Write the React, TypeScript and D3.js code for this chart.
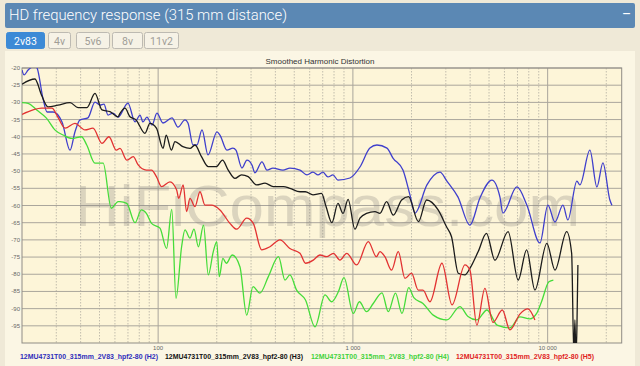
import * as d3 from 'd3';
import { useRef, useEffect } from 'react';

// ---- data (frequency in Hz, level in dB) ----
const tabLabels = ['2v83', '4v', '5v6', '8v', '11v2'];
const yTickValues = [-20, -25, -30, -35, -40, -45, -50, -55, -60, -65, -70, -75, -80, -85, -90, -95];
const xMajorTicks = [100, 1000, 10000];
const xMajorLabels = ['100', '1 000', '10 000'];
const seriesNames = [
  '12MU4731T00_315mm_2V83_hpf2-80 (H2)',
  '12MU4731T00_315mm_2V83_hpf2-80 (H3)',
  '12MU4731T00_315mm_2V83_hpf2-80 (H4)',
  '12MU4731T00_315mm_2V83_hpf2-80 (H5)',
];

const h2: [number, number][] = [
  [20, -20.6], [20.5, -22.0], [21.5, -20.6], [23.3, -19.4], [23.9, -20.0], [25.6, -28.7], [26.9, -32.8],
  [28.9, -32.8], [32.1, -35.7], [35.3, -43.9], [37.4, -38.6], [39.7, -35.1], [43.6, -34.5], [47.4, -29.9],
  [50.3, -30.8], [52.7, -30.5], [55.3, -33.7], [58.6, -33.1], [62.2, -34.3], [70, -30.2], [76.1, -35.7],
  [80.7, -33.7], [83.6, -35.7], [87.6, -34.3], [93, -36.6], [98.6, -33.1], [105.9, -36.0], [117.8, -34.5],
  [126.4, -37.2], [137.4, -35.1], [142.3, -36.0], [151, -42.4], [158.2, -42.4], [168, -38.0], [180.3, -45.3],
  [200.5, -38.6], [207.7, -39.5], [225.6, -43.9], [242.2, -43.3], [250.9, -43.9], [269.4, -49.1],
  [285.8, -46.8], [303.2, -48.2], [314.1, -50.5], [341.4, -47.3], [362.2, -49.7], [388.6, -49.1],
  [437.4, -49.7], [475.2, -49.1], [534.8, -49.7], [581, -51.1], [623.8, -50.3], [661.7, -51.1], [702, -50.3],
  [744.6, -51.7], [790, -51.1], [838, -52.6], [966, -52.0], [1087, -48.8], [1223, -43.3], [1329, -42.4],
  [1496, -43.3], [1606, -46.2], [1807, -49.7], [1963, -56.9], [2083, -62.2], [2400, -54.0], [2799, -50.3],
  [3039, -52.9], [3461, -57.5], [3989, -65.7], [4490, -57.8], [5173, -52.6], [5686, -57.5], [5891, -62.2],
  [6951, -54.6], [7825, -59.9], [9126, -70.9], [10030, -59.9], [10900, -64.8], [11980, -59.9], [12700, -64.2],
  [14130, -52.9], [14640, -54.0], [16480, -43.9], [17900, -54.6], [19220, -47.6], [20870, -58.4], [21380, -59.9],
];

const h3: [number, number][] = [
  [20, -24.7], [23.3, -23.2], [25.2, -27.9], [27.2, -31.3], [30.6, -30.8], [35.3, -30.1], [38.8, -31.5],
  [43.1, -31.5], [47.4, -27.4], [51.5, -32.2], [56.6, -32.7], [62.2, -34.2], [63.7, -33.2], [67.6, -31.7],
  [71.7, -34.2], [77, -35.1], [85.6, -39.0], [90.8, -36.1], [98, -37.5], [106, -43.4], [110, -39.5],
  [117, -43.9], [122, -41.4], [134, -42.9], [145.7, -43.4], [154.6, -42.4], [167, -45.8], [181, -48.7],
  [199, -48.7], [214, -46.8], [229, -49.7], [248, -52.1], [268, -51.1], [290, -51.6], [320, -54.0],
  [354, -53.5], [390, -54.5], [440, -54.5], [475, -55.0], [535, -56.0], [570, -56.0], [624, -56.9],
  [690, -56.5], [728, -60.3], [780, -65.0], [838, -59.4], [890, -62.3], [945, -58.2], [1024, -66.9],
  [1087, -63.7], [1175, -62.3], [1298, -61.8], [1377, -62.3], [1490, -58.9], [1612, -62.8], [1780, -58.4],
  [1930, -57.4], [2170, -64.7], [2390, -58.4], [2740, -61.3], [3025, -66.2], [3210, -69.1], [3475, -79.7],
  [3760, -80.2], [3989, -78.3], [4400, -73.4], [4850, -68.1], [5360, -75.9], [6265, -67.6], [7060, -81.7],
  [7800, -72.9], [8602, -84.6], [9905, -71.0], [10900, -78.8], [12520, -67.6], [13280, -73.9],
  [13640, -104], [13800, -93.3], [13970, -104], [14130, -96], [14300, -77.3],
];

const h4: [number, number][] = [
  [20, -30.1], [21.5, -30.3], [23.8, -32.2], [26.7, -34.6], [29.5, -38.0], [32.5, -39.5], [36, -40.5],
  [40.4, -40.0], [43, -42.4], [47.4, -47.7], [52.2, -47.7], [57.5, -60.8], [62.3, -58.9], [63.7, -58.9],
  [69, -59.4], [76.1, -65.0], [82, -61.3], [87, -62.3], [92.5, -65.2], [102.2, -66.6], [110.5, -72.5],
  [117.5, -61.1], [123.5, -87.0], [132, -72.0], [137.4, -67.1], [145.7, -69.5], [152.8, -66.9], [161, -72.0],
  [171, -65.7], [181, -80.2], [192, -73.4], [200, -70.5], [206, -80.7], [215, -75.4], [224, -76.8],
  [240, -74.4], [263, -77.8], [285, -91.9], [307, -83.6], [333, -85.5], [368, -80.7], [415, -74.9],
  [448, -81.7], [475, -80.2], [514, -84.6], [571, -87.5], [639, -95.3], [719, -86.0], [778, -88.0],
  [842, -85.1], [900, -81.0], [1005, -91.4], [1080, -88.0], [1175, -90.9], [1272, -88.5], [1410, -85.4],
  [1520, -90.9], [1655, -85.5], [1787, -91.4], [1935, -83.9], [2055, -86.8], [2290, -88.5], [2585, -91.9],
  [3040, -93.3], [3544, -89.4], [3900, -92.3], [4330, -93.3], [4880, -90.4], [5500, -94.8], [6402, -95.6],
  [7202, -92.4], [8108, -93.0], [8780, -91.4], [9300, -88.0], [10150, -82.2], [10700, -81.7],
];

const h5: [number, number][] = [
  [20, -33.5], [22.8, -32.2], [25.2, -31.7], [28.5, -31.7], [30.5, -34.2], [33.3, -37.5], [37.4, -36.1],
  [42.1, -38.0], [46.3, -37.5], [51.5, -41.9], [55.9, -40.0], [61, -43.9], [63.7, -43.4], [69, -46.8],
  [74.5, -45.8], [79, -48.2], [87, -49.7], [92.5, -49.7], [98, -51.6], [104, -54.5], [115, -53.1],
  [124.5, -55.5], [127.5, -57.9], [134.5, -54.0], [140, -61.8], [145.7, -57.9], [154.6, -60.3], [164, -56.0],
  [174, -59.9], [188, -59.9], [207.7, -61.3], [233.8, -65.2], [253, -66.9], [285, -63.7], [308, -65.2],
  [340, -72.9], [375, -72.0], [422, -70.0], [475, -72.5], [535, -73.9], [571, -76.8], [626, -75.9],
  [677, -74.4], [733, -74.9], [794, -73.9], [858, -75.9], [930, -73.9], [1045, -77.3], [1200, -70.5],
  [1320, -74.9], [1377, -73.4], [1460, -74.9], [1580, -78.8], [1710, -73.4], [1850, -81.2], [2000, -79.7],
  [2165, -84.6], [2290, -84.6], [2487, -88.0], [2865, -76.8], [3230, -88.9], [3760, -77.3], [3989, -78.8],
  [4330, -94.8], [4762, -84.1], [5240, -94.0], [5850, -90.4], [6402, -96.2], [7202, -91.6], [7925, -90.1],
  [8602, -93.3],
];

const seriesData = [h2, h3, h4, h5];
const lineColors = ['#3f3fcc', '#1c1c1c', '#45dc3a', '#e23232'];
const legendColors = ['#2d2dbb', '#111111', '#3fd23a', '#e02222'];

const App = () => {
  const ref = useRef<SVGSVGElement>(null);
  const width = 640;
  const height = 366;
  const plot = { left: 22, top: 68, right: 621.7, bottom: 343 };

  useEffect(() => {
    const svg = d3.select(ref.current);
    svg.selectAll('*').remove();

    // page + header
    svg.append('rect').attr('width', width).attr('height', height).attr('fill', '#efe9d7');
    svg.append('rect').attr('x', 5).attr('y', 3).attr('width', 630).attr('height', 25)
      .attr('rx', 2).attr('fill', '#5b88b4');
    svg.append('text').attr('x', 9).attr('y', 20)
      .attr('font-family', 'Roboto, sans-serif').attr('font-size', 15).attr('font-weight', 300)
      .attr('fill', '#ffffff')
      .attr('textLength', 278).attr('lengthAdjust', 'spacingAndGlyphs')
      .text('HD frequency response (315 mm distance)');
    svg.append('text').attr('x', 622).attr('y', 19)
      .attr('font-family', 'Roboto, sans-serif').attr('font-size', 14).attr('fill', '#ffffff')
      .text('–');

    // tabs
    const tabX = [6, 48, 76, 112, 144];
    const tabW = [38, 22, 33, 30, 34];
    tabLabels.forEach((t, i) => {
      const active = i === 0;
      svg.append('rect').attr('x', tabX[i] + 0.5).attr('y', 32.5).attr('width', tabW[i]).attr('height', 16)
        .attr('rx', 2).attr('fill', active ? '#3c8ad6' : '#f6f2e6')
        .attr('stroke', active ? '#3c8ad6' : '#bdbab2');
      svg.append('text').attr('x', tabX[i] + tabW[i] / 2 + 0.5).attr('y', 44.5)
        .attr('text-anchor', 'middle').attr('font-family', 'Roboto, sans-serif').attr('font-size', 10.5)
        .attr('fill', active ? '#ffffff' : '#a09d96').text(t);
    });

    // chart panel
    svg.append('rect').attr('x', 5).attr('y', 51).attr('width', 630).attr('height', 315).attr('fill', '#fbf6e4');
    svg.append('text').attr('x', 320).attr('y', 64).attr('text-anchor', 'middle')
      .attr('font-family', 'Liberation Sans, Arial, sans-serif').attr('font-size', 8).attr('fill', '#333')
      .text('Smoothed Harmonic Distortion');

    const x = d3.scaleLog().domain([20, 24000]).range([plot.left, plot.right]);
    const y = d3.scaleLinear().domain([-100, -20]).range([plot.bottom, plot.top]);

    svg.append('rect').attr('x', plot.left).attr('y', plot.top)
      .attr('width', plot.right - plot.left).attr('height', plot.bottom - plot.top).attr('fill', '#fdf5d8');

    // vertical grid
    const grid = svg.append('g');
    x.ticks().forEach((t) => {
      const major = xMajorTicks.includes(t);
      if (t <= 20) return;
      grid.append('line').attr('x1', x(t)).attr('x2', x(t)).attr('y1', plot.top).attr('y2', plot.bottom)
        .attr('stroke', major ? '#a9a59b' : '#c2bdad').attr('stroke-width', 1)
        .attr('stroke-dasharray', major ? null : '1.5 1.5');
    });
    // horizontal grid
    yTickValues.forEach((v) => {
      grid.append('line').attr('x1', plot.left).attr('x2', plot.right).attr('y1', y(v)).attr('y2', y(v))
        .attr('stroke', '#aaa69c').attr('stroke-width', 1);
    });
    svg.append('rect').attr('x', plot.left).attr('y', plot.top)
      .attr('width', plot.right - plot.left).attr('height', plot.bottom - plot.top)
      .attr('fill', 'none').attr('stroke', '#8f8c85').attr('stroke-width', 1);

    // tick labels
    yTickValues.forEach((v) => {
      svg.append('text').attr('x', 20).attr('y', y(v) + 2).attr('text-anchor', 'end')
        .attr('font-family', 'Liberation Sans, Arial, sans-serif').attr('font-size', 6).attr('fill', '#666')
        .text(v);
    });
    xMajorTicks.forEach((t, i) => {
      svg.append('text').attr('x', x(t)).attr('y', 350).attr('text-anchor', 'middle')
        .attr('font-family', 'Liberation Sans, Arial, sans-serif').attr('font-size', 6).attr('fill', '#666')
        .text(xMajorLabels[i]);
    });

    // watermark
    svg.append('text').attr('x', 75).attr('y', 226)
      .attr('font-family', 'Liberation Sans, Arial, sans-serif').attr('font-size', 58)
      .attr('textLength', 505).attr('lengthAdjust', 'spacingAndGlyphs')
      .attr('fill', '#85827c').attr('opacity', 0.28).text('HiFiCompass.com');

    // clip + lines
    svg.append('clipPath').attr('id', 'plot-clip').append('rect')
      .attr('x', plot.left).attr('y', plot.top)
      .attr('width', plot.right - plot.left).attr('height', plot.bottom - plot.top);

    const lineGen = d3.line<[number, number]>()
      .x((d) => x(d[0]))
      .y((d) => y(d[1]))
      .curve(d3.curveMonotoneX);

    const lines = svg.append('g').attr('clip-path', 'url(#plot-clip)');
    seriesData.forEach((s, i) => {
      lines.append('path').datum(s).attr('fill', 'none').attr('stroke', lineColors[i])
        .attr('stroke-width', 1.3).attr('stroke-linejoin', 'round').attr('d', lineGen as any);
    });

    // legend
    const legendX = [20, 165, 311, 456];
    seriesNames.forEach((n, i) => {
      svg.append('text').attr('x', legendX[i]).attr('y', 359)
        .attr('font-family', 'Liberation Sans, Arial, sans-serif').attr('font-size', 7.2)
        .attr('font-weight', 'bold').attr('fill', legendColors[i])
        .attr('textLength', 138).attr('lengthAdjust', 'spacingAndGlyphs').text(n);
    });
  }, []);

  return (
    <div style={{ position: 'absolute', left: 0, top: 0 }}>
      <svg ref={ref} width={width} height={height} style={{ display: 'block' }} />
    </div>
  );
};

export default App;
